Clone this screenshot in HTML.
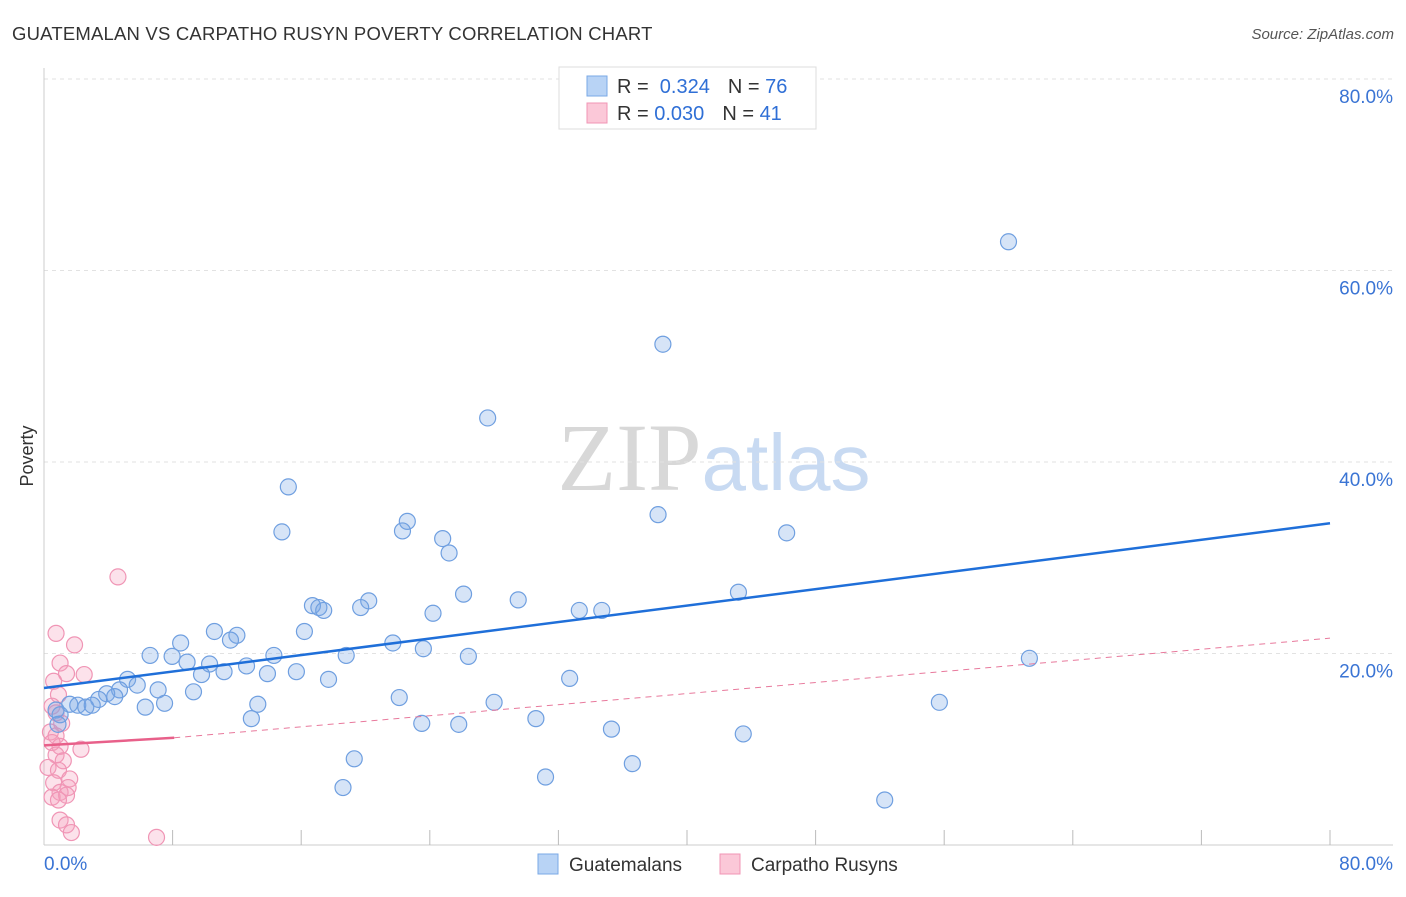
<!DOCTYPE html>
<html><head><meta charset="utf-8">
<style>
body{margin:0;background:#fff;font-family:"Liberation Sans",sans-serif;}
svg text{font-family:"Liberation Sans",sans-serif;}
</style></head>
<body>
<svg id="chart" width="1406" height="892" viewBox="0 0 1406 892" xmlns="http://www.w3.org/2000/svg">
<text x="12" y="40" font-size="18.5" letter-spacing="0.2" fill="#333">GUATEMALAN VS CARPATHO RUSYN POVERTY CORRELATION CHART</text>
<text x="1394" y="39" font-size="15" fill="#555" text-anchor="end" font-style="italic">Source: ZipAtlas.com</text>
<text x="714" y="490" font-size="96" text-anchor="middle"><tspan fill="#d8d8d8" font-family="Liberation Serif">ZIP</tspan><tspan fill="#c8daf2" font-size="80">atlas</tspan></text>
<text transform="translate(33,456) rotate(-90)" font-size="18" fill="#333" text-anchor="middle">Poverty</text>
<g id="grid"></g>
<g id="axes"></g>
<g id="marks"></g>
<g>
<rect x="559" y="67" width="257" height="62" fill="#fff" stroke="#ddd"/>
<rect x="587" y="76" width="20" height="20" fill="#b8d3f5" stroke="#7aa8e6"/>
<text x="617" y="93" font-size="20" fill="#333">R = <tspan fill="#2f6fd6">&#160;0.324</tspan><tspan dx="18">N = </tspan><tspan fill="#2f6fd6">76</tspan></text>
<rect x="587" y="103" width="20" height="20" fill="#fbc8d8" stroke="#f095b5"/>
<text x="617" y="120" font-size="20" fill="#333">R = <tspan fill="#2f6fd6">0.030</tspan><tspan dx="18">N = </tspan><tspan fill="#2f6fd6">41</tspan></text>
</g>
<g>
<rect x="538" y="854" width="20" height="20" fill="#b8d3f5" stroke="#7aa8e6"/>
<text x="569" y="871" font-size="19" fill="#333">Guatemalans</text>
<rect x="720" y="854" width="20" height="20" fill="#fbc8d8" stroke="#f095b5"/>
<text x="751" y="871" font-size="19" fill="#333">Carpatho Rusyns</text>
</g>
</svg>
<script>
const yTicks=[20,40,60,80];
const yTickLabels=["20.0%","40.0%","60.0%","80.0%"];
const xTicks=[8,16,24,32,40,48,56,64,72,80];
const blueX=[60.0,38.5,27.6,15.2,38.2,22.6,14.8,22.3,46.2,24.8,25.2,43.2,26.1,29.5,20.2,16.7,17.1,17.4,19.7,33.3,34.7,24.2,10.6,16.2,12.0,11.6,8.5,21.7,23.6,6.6,7.97,14.3,18.8,26.4,61.3,8.9,10.3,12.6,11.2,9.8,13.9,15.7,5.2,17.7,32.7,5.8,4.7,7.1,3.9,4.4,3.4,9.3,22.1,28.0,55.7,13.3,7.5,6.3,1.6,2.1,2.6,3.0,0.75,1.0,0.87,12.9,30.6,23.5,25.8,35.3,43.5,19.3,36.6,31.2,18.6,52.3];
const blueY=[63.0,52.3,44.6,37.4,34.5,33.8,32.7,32.8,32.6,32.0,30.5,26.4,26.2,25.6,25.5,25.0,24.8,24.5,24.8,24.5,24.5,24.2,22.3,22.3,21.9,21.4,21.1,21.1,20.5,19.8,19.7,19.8,19.8,19.7,19.5,19.1,18.9,18.7,18.1,17.8,17.9,18.1,17.3,17.3,17.4,16.7,16.2,16.2,15.8,15.5,15.2,16.0,15.4,14.9,14.9,14.7,14.8,14.4,14.7,14.6,14.4,14.6,14.1,13.6,12.6,13.2,13.2,12.7,12.6,12.1,11.6,9.0,8.5,7.1,6.0,4.7];
const pinkX=[4.6,0.75,1.9,1.0,1.4,2.5,0.6,0.9,0.5,0.75,1.1,0.4,0.75,1.0,0.5,2.3,0.75,1.2,0.25,0.9,1.6,0.6,1.5,1.0,1.4,0.5,0.9,1.0,1.4,1.7,7.0];
const pinkY=[28.0,22.1,20.9,19.0,17.9,17.8,17.1,15.7,14.5,13.8,12.7,11.8,11.4,10.3,10.7,10.0,9.4,8.8,8.1,7.8,6.9,6.5,6.0,5.5,5.2,5.0,4.7,2.6,2.1,1.3,0.8];
const blueTrend=[0,16.4,80,33.6];
const pinkTrend=[0,10.4,8.1,11.2,80,21.6];
const X=v=>44+v*16.075, Y=v=>845-v*9.575;
const NS="http://www.w3.org/2000/svg";
function mk(tag,attrs,parent){const e=document.createElementNS(NS,tag);for(const k in attrs)e.setAttribute(k,attrs[k]);document.getElementById(parent).appendChild(e);return e;}
yTicks.forEach((t,i)=>{
 const l=mk('line',{x1:44,x2:1393,y1:Y(t),y2:Y(t),stroke:'#e2e2e2','stroke-dasharray':'4,4'},'grid');
 
 
 const tx=mk('text',{x:1393,y:Y(t)+24,'font-size':19,fill:'#3a74d4','text-anchor':'end'},'axes');
 tx.textContent=yTickLabels[i];
 
 
});
let a=mk('line',{x1:44,x2:44,y1:68,y2:845,stroke:'#ccc'},'axes');


a=mk('line',{x1:44,x2:1393,y1:845,y2:845,stroke:'#ccc'},'axes');


xTicks.forEach(t=>{
 const l=mk('line',{x1:X(t),x2:X(t),y1:830,y2:845,stroke:'#bbb'},'axes');
 
 
});
let t0=mk('text',{x:44,y:870,'font-size':19,fill:'#3a74d4'},'axes');t0.textContent='0.0%';


t0=mk('text',{x:1393,y:870,'font-size':19,fill:'#3a74d4','text-anchor':'end'},'axes');t0.textContent='80.0%';


pinkX.forEach((v,i)=>{
 const c=mk('circle',{cx:X(v),cy:Y(pinkY[i]),r:8,fill:'rgba(245,160,190,0.3)',stroke:'#f095b5','stroke-width':1.2},'marks');
 
 
});
blueX.forEach((v,i)=>{
 const c=mk('circle',{cx:X(v),cy:Y(blueY[i]),r:8,fill:'rgba(120,165,230,0.3)',stroke:'#6f9fe0','stroke-width':1.2},'marks');
 
 
});
let ln=mk('line',{x1:X(pinkTrend[2]),y1:Y(pinkTrend[3]),x2:X(pinkTrend[4]),y2:Y(pinkTrend[5]),stroke:'#e8799c','stroke-width':1,'stroke-dasharray':'6,5'},'marks');


ln=mk('line',{x1:X(pinkTrend[0]),y1:Y(pinkTrend[1]),x2:X(pinkTrend[2]),y2:Y(pinkTrend[3]),stroke:'#e8608a','stroke-width':2.5},'marks');


ln=mk('line',{x1:X(blueTrend[0]),y1:Y(blueTrend[1]),x2:X(blueTrend[2]),y2:Y(blueTrend[3]),stroke:'#1f6fd9','stroke-width':2.5},'marks');


</script>
</body></html>
